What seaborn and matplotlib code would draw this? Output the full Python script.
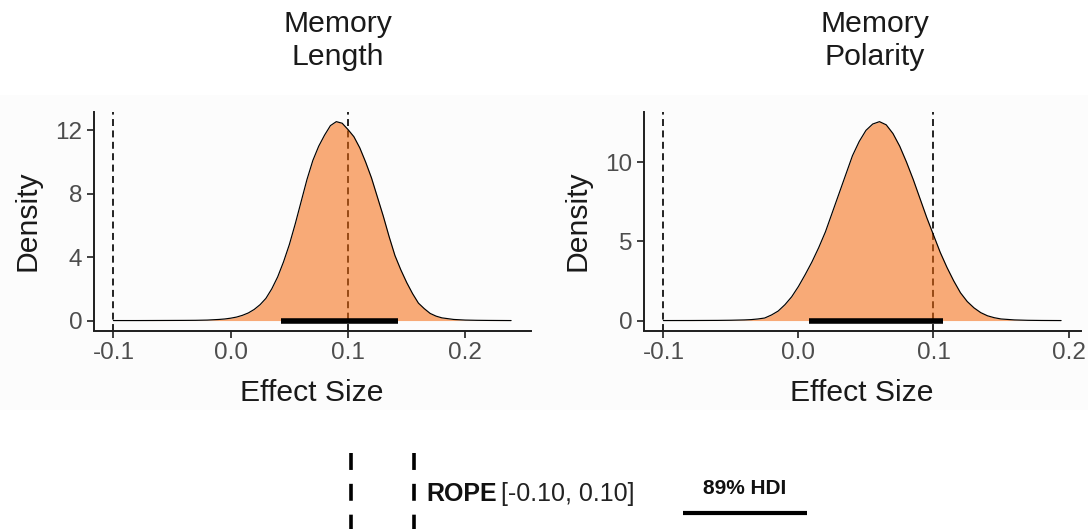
import matplotlib
matplotlib.use("Agg")
import matplotlib.pyplot as plt
import seaborn as sns
from matplotlib.patches import Rectangle

# ---------------- data ----------------
rope = [-0.10, 0.10]

length_x = [-0.100, -0.080, -0.060, -0.040, -0.030, -0.020, -0.010, -0.005,
            0.000, 0.005, 0.010, 0.015, 0.020, 0.025, 0.030, 0.035, 0.040,
            0.045, 0.050, 0.055, 0.060, 0.065, 0.070, 0.075, 0.080, 0.085,
            0.090, 0.095, 0.100, 0.105, 0.110, 0.115, 0.120, 0.125, 0.130,
            0.135, 0.140, 0.145, 0.150, 0.155, 0.160, 0.165, 0.170, 0.175,
            0.180, 0.190, 0.200, 0.210, 0.220, 0.239]
length_density = [0.0, 0.0, 0.005, 0.01, 0.015, 0.03, 0.07, 0.10,
                  0.15, 0.22, 0.33, 0.48, 0.70, 1.00, 1.40, 2.00, 2.75,
                  3.70, 4.80, 6.10, 7.50, 8.90, 10.10, 11.00, 11.70, 12.30,
                  12.55, 12.45, 12.05, 11.60, 10.90, 10.00, 9.00, 7.80, 6.60,
                  5.30, 4.10, 3.20, 2.40, 1.70, 1.10, 0.75, 0.45, 0.28,
                  0.17, 0.07, 0.03, 0.015, 0.008, 0.0]

polarity_x = [-0.100, -0.080, -0.060, -0.050, -0.040, -0.035, -0.030, -0.025,
              -0.020, -0.015, -0.010, -0.005, 0.000, 0.005, 0.010, 0.015,
              0.020, 0.025, 0.030, 0.035, 0.040, 0.045, 0.050, 0.055, 0.060,
              0.065, 0.070, 0.075, 0.080, 0.085, 0.090, 0.095, 0.100, 0.105,
              0.110, 0.115, 0.120, 0.125, 0.130, 0.135, 0.140, 0.145, 0.150,
              0.160, 0.170, 0.180, 0.1945]
polarity_density = [0.0, 0.003, 0.01, 0.02, 0.04, 0.06, 0.10, 0.16,
                    0.35, 0.60, 1.00, 1.50, 2.15, 2.90, 3.70, 4.60,
                    5.60, 6.80, 8.00, 9.20, 10.40, 11.30, 12.00, 12.40, 12.55,
                    12.35, 11.80, 11.00, 10.00, 8.90, 7.70, 6.50, 5.40, 4.30,
                    3.35, 2.50, 1.75, 1.20, 0.80, 0.50, 0.30, 0.18, 0.10,
                    0.04, 0.015, 0.006, 0.0]

hdi_length = [0.043, 0.143]
hdi_polarity = [0.008, 0.107]

titles = [("Memory", "Length"), ("Memory", "Polarity")]
x_ticks = [-0.1, 0.0, 0.1, 0.2]
x_tick_labels = ["-0.1", "0.0", "0.1", "0.2"]
length_y_ticks = [0, 4, 8, 12]
polarity_y_ticks = [0, 5, 10]
x_title = "Effect Size"
y_title = "Density"
rope_label_bold = "ROPE"
rope_label_rest = "[-0.10, 0.10]"
hdi_label = "89% HDI"

# ---------------- styling ----------------
sns.set_theme(style="ticks")
plt.rcParams["font.family"] = ["Liberation Sans", "DejaVu Sans"]
plt.rcParams["lines.scale_dashes"] = False

W, H = 1088, 529
fig = plt.figure(figsize=(W / 100, H / 100), dpi=100)
fig.patch.set_facecolor("white")


def fx(x):
    return x / W


def fy(y):
    return 1 - y / H


# very faint grey band behind the panels
fig.add_artist(Rectangle((0, fy(410)), 1, (410 - 95) / H, transform=fig.transFigure,
                         facecolor="#FCFCFC", edgecolor="none", zorder=-5))

FILL = "#F6680A"
AX_COL = "#1E1E1E"
TICK_TXT = "#4D4D4D"
TITLE_SIZE = 21.7
TICK_SIZE = 17.5

panels = [
    dict(x=length_x, d=length_density, hdi=hdi_length, yticks=length_y_ticks,
         title=titles[0], left=93.5, title_x=337.5, ylab_x=27),
    dict(x=polarity_x, d=polarity_density, hdi=hdi_polarity, yticks=polarity_y_ticks,
         title=titles[1], left=643.5, title_x=875, ylab_x=577),
]

top_px, bottom_px, width_px = 111.7, 330.5, 437.5

for p in panels:
    ax = fig.add_axes([fx(p["left"]), fy(bottom_px), width_px / W, (bottom_px - top_px) / H])
    ax.patch.set_alpha(0)

    for r in rope:
        ax.axvline(r, color="#1A1A1A", lw=1.35, ls=(0, (5.0, 3.2)), zorder=1)

    ax.fill_between(p["x"], 0, p["d"], color=FILL, alpha=0.55, lw=0, zorder=2)
    sns.lineplot(x=p["x"], y=p["d"], ax=ax, color="black", lw=0.85, zorder=4,
                 estimator=None, sort=False)
    sns.lineplot(x=p["hdi"], y=[0, 0], ax=ax, color="black", lw=4.0, zorder=3,
                 estimator=None, solid_capstyle="butt")

    xmin, xmax = min(p["x"]), max(p["x"])
    span = xmax - xmin
    ax.set_xlim(xmin - 0.05 * span, xmax + 0.05 * span)
    ymax = max(p["d"])
    ax.set_ylim(-0.05 * ymax, 1.05 * ymax)

    ax.set_xticks(x_ticks)
    ax.set_xticklabels(x_tick_labels)
    ax.set_yticks(p["yticks"])
    ax.set_yticklabels([str(t) for t in p["yticks"]])
    ax.set_xlabel("")
    ax.set_ylabel("")
    sns.despine(ax=ax)
    for s in ("left", "bottom"):
        ax.spines[s].set_color(AX_COL)
        ax.spines[s].set_linewidth(1.4)
    ax.tick_params(length=5, width=1.2, color=AX_COL, labelsize=TICK_SIZE,
                   labelcolor=TICK_TXT, pad=3)
    ax.grid(False)

    # titles
    fig.text(fx(p["title_x"]), fy(32.3), p["title"][0], ha="center", va="baseline",
             fontsize=TITLE_SIZE, color="#1A1A1A")
    fig.text(fx(p["title_x"]), fy(65), p["title"][1], ha="center", va="baseline",
             fontsize=TITLE_SIZE, color="#1A1A1A")
    # axis titles
    cx = p["left"] + width_px / 2
    fig.text(fx(cx), fy(401), x_title, ha="center", va="baseline",
             fontsize=TITLE_SIZE, color="#1A1A1A")
    fig.text(fx(p["ylab_x"]), fy((top_px + bottom_px) / 2), y_title, rotation=90,
             ha="center", va="center", fontsize=TITLE_SIZE, color="#1A1A1A")

# ---------------- legend ----------------
lax = fig.add_axes([0, 0, 1, 1], zorder=5)
lax.set_xlim(0, W)
lax.set_ylim(H, 0)
lax.axis("off")
lax.patch.set_alpha(0)

for lx in (351, 414):
    lax.plot([lx, lx], [453, 560], color="black", lw=2.6, dashes=(12.2, 10.0),
             solid_capstyle="butt", dash_capstyle="butt", clip_on=False)

t = lax.text(426, 493.7, rope_label_bold, ha="left", va="center", fontsize=18,
             fontweight="bold", color="#111111")
lax.annotate(rope_label_rest, xy=(1, 0), xycoords=t, xytext=(3.5, 0),
             textcoords="offset points", ha="left", va="bottom", fontsize=18,
             color="#222222")

lax.text(744.5, 488.4, hdi_label, ha="center", va="center", fontsize=15,
         fontweight="bold", color="#111111")
lax.plot([683.4, 806.9], [513, 513], color="black", lw=3, solid_capstyle="butt")

fig.savefig("out.png", dpi=100)
